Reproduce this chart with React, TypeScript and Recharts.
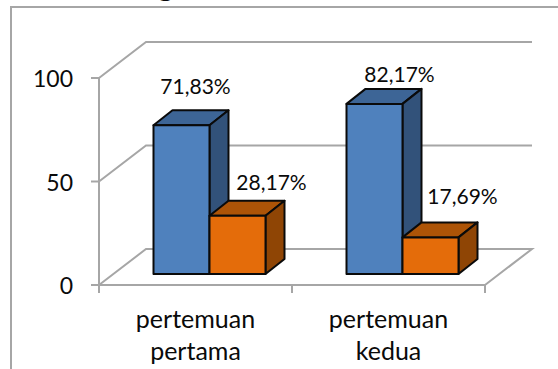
import React from "react";
import { BarChart, Bar, XAxis, YAxis, CartesianGrid, LabelList } from "recharts";

const categories = [["pertemuan", "pertama"], ["pertemuan", "kedua"]];
const hadir = [71.83, 82.17];
const tidakHadir = [28.17, 17.69];
const hadirLabels = ["71,83%", "82,17%"];
const tidakHadirLabels = ["28,17%", "17,69%"];
const yTicks = [0, 50, 100];

const data = categories.map((c, i) => ({
  name: c.join(" "),
  hadir: hadir[i],
  tidakHadir: tidakHadir[i],
}));

const FONT = "Lato, sans-serif";
const GRID = "#a6a6a6";
// wall depth of the fake 3D box, and how far the bars sit inside it
const WALL_X = 47;
const WALL_Y = 36;
const BAR_DX = 13.5;
const BAR_DY = -11;
const DEPTH_X = 19;
const DEPTH_Y = 15;

function Box3D(props: any) {
  const { x, y, width, height, front, side, top } = props;
  const l = x + BAR_DX;
  const t = y + BAR_DY;
  const r = l + width;
  const b = t + height;
  return (
    <g stroke="#0a0a0a" strokeWidth={2} strokeLinejoin="round">
      <path d={`M${l},${t} L${l + DEPTH_X},${t - DEPTH_Y} L${r + DEPTH_X},${t - DEPTH_Y} L${r},${t} Z`} fill={top} />
      <path d={`M${r},${t} L${r + DEPTH_X},${t - DEPTH_Y} L${r + DEPTH_X},${b - DEPTH_Y} L${r},${b} Z`} fill={side} />
      <rect x={l} y={t} width={width} height={height} fill={front} />
    </g>
  );
}

// each horizontal grid line runs along the side wall, then the back wall
function WallLine(props: any) {
  const { x1, x2, y1, index } = props;
  const bx = x1 + WALL_X;
  const by = y1 - WALL_Y;
  const isFloor = Math.abs(y1 - 285) < 2;
  let d = `M${x1},${y1} L${bx},${by} L${x2 + WALL_X},${by}`;
  if (isFloor) d += ` L${x2},${y1}`;
  return <path key={index} d={d} fill="none" stroke={GRID} strokeWidth={2} />;
}

function CategoryTick(props: any) {
  const { x, y, index } = props;
  const lines = categories[index];
  const half = 96.5;
  const axisY = 285;
  return (
    <g>
      {index === 0 && <line x1={x - half} x2={x - half} y1={axisY} y2={axisY + 8} stroke={GRID} strokeWidth={2} />}
      <line x1={x + half} x2={x + half} y1={axisY} y2={axisY + 8} stroke={GRID} strokeWidth={2} />
      <text x={x} y={y + 35} textAnchor="middle" fontFamily={FONT} fontSize={25} fill="#0a0a0a">
        {lines.map((line: string, i: number) => (
          <tspan key={i} x={x} dy={i === 0 ? 0 : 32}>{line}</tspan>
        ))}
      </text>
    </g>
  );
}

function ValueTick(props: any) {
  const { x, y, payload } = props;
  return (
    <text x={x} y={y + 9} textAnchor="end" fontFamily={FONT} fontSize={23} fill="#0a0a0a">
      {payload.value}
    </text>
  );
}

// the labels float freely above the boxes, so each one has its own offset
function valueLabel(texts: string[], offsets: number[][]) {
  return (props: any) => {
    const { x, y, width, index } = props;
    const [dx, dy] = offsets[index];
    return (
      <text x={x + width / 2 + dx} y={y + dy} textAnchor="middle" fontFamily={FONT} fontSize={21} fill="#0a0a0a">
        {texts[index]}
      </text>
    );
  };
}

export default function App() {
  return (
    <div style={{ position: "absolute", left: 0, top: 0, width: 558, height: 369, overflow: "hidden", background: "#fff" }}>
      <div
        style={{
          position: "absolute",
          left: 19,
          top: -33,
          fontFamily: "'Liberation Serif', serif",
          fontSize: 30,
          lineHeight: "36px",
          color: "#0a0a0a",
          whiteSpace: "nowrap",
        }}
      >
        adalah sebagai berikut.
      </div>
      <div
        style={{
          position: "absolute",
          left: 10,
          top: 6,
          width: 560,
          height: 380,
          borderLeft: "2px solid #a6a6a6",
          borderTop: "2px solid #a6a6a6",
        }}
      />
      <BarChart
        width={558}
        height={369}
        data={data}
        margin={{ top: 78, right: 73, bottom: 0, left: 0 }}
        barCategoryGap={41}
        barGap={0}
        style={{ position: "absolute", left: 0, top: 0 }}
      >
        <CartesianGrid vertical={false} horizontal={WallLine as any} />
        <XAxis
          dataKey="name"
          axisLine={{ stroke: GRID, strokeWidth: 2 }}
          tickLine={false}
          interval={0}
          tick={CategoryTick as any}
          height={84}
        />
        <YAxis
          width={99}
          domain={[0, 100]}
          ticks={yTicks}
          axisLine={{ stroke: GRID, strokeWidth: 2 }}
          tickLine={{ stroke: GRID, strokeWidth: 2 }}
          tickSize={8}
          tickMargin={18}
          tick={ValueTick as any}
        />
        <Bar
          dataKey="hadir"
          isAnimationActive={false}
          shape={(p: any) => <Box3D {...p} front="#4f81bd" side="#32527a" top="#3d6596" />}
        >
          <LabelList dataKey="hadir" content={valueLabel(hadirLabels, [[27.5, -42], [38.5, -33]]) as any} />
        </Bar>
        <Bar
          dataKey="tidakHadir"
          isAnimationActive={false}
          shape={(p: any) => <Box3D {...p} front="#e46c0a" side="#8f4505" top="#ad5407" />}
        >
          <LabelList dataKey="tidakHadir" content={valueLabel(tidakHadirLabels, [[47.5, -37], [45.5, -44]]) as any} />
        </Bar>
      </BarChart>
    </div>
  );
}
